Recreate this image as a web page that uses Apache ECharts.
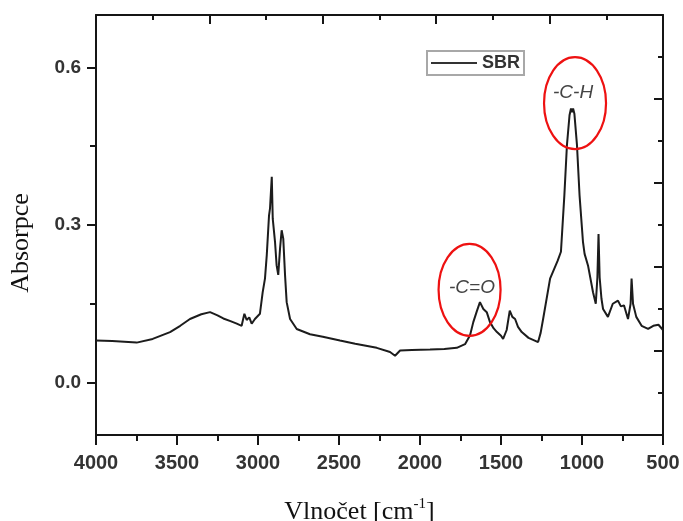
<!DOCTYPE html>
<html>
<head>
<meta charset="utf-8">
<title>FTIR spektrum SBR</title>
<script src="https://cdn.jsdelivr.net/npm/echarts@6/dist/echarts.min.js"></script>
<style>
  html, body { margin: 0; padding: 0; background: #fff; }
  #chart { width: 683px; height: 521px; }
</style>
</head>
<body>
<div id="chart"></div>
<script>
// FTIR absorbance spectrum of SBR rubber
const seriesName = 'SBR';

// wavenumber [cm-1]
const wavenumbers = [
  4000, 3900, 3800, 3749, 3650, 3543, 3480, 3420, 3350, 3296, 3250, 3214, 3170, 3131, 3101,
  3084, 3070, 3054, 3039, 3019, 2988, 2971, 2957, 2946, 2932, 2926, 2915, 2909, 2895, 2885,
  2875, 2864, 2854, 2844, 2833, 2823, 2802, 2761, 2679, 2600, 2494, 2400, 2267, 2185, 2154,
  2123, 2050, 1938, 1850, 1773, 1722, 1691, 1671, 1650, 1630, 1609, 1588, 1568, 1545, 1525,
  1500, 1487, 1465, 1446, 1430, 1413, 1395, 1372, 1330, 1271, 1255, 1240, 1197, 1150, 1130,
  1109, 1093, 1077, 1068, 1062, 1055, 1047, 1031, 1015, 994, 984, 963, 932, 915, 905,
  898, 891, 880, 870, 840, 810, 778, 760, 741, 716, 700, 694, 685, 665, 632,
  592, 560, 528, 500
];

// absorbance
const absorbance = [
  0.080, 0.079, 0.077, 0.076, 0.083, 0.096, 0.108, 0.121, 0.130, 0.134, 0.128, 0.122, 0.117, 0.112, 0.108,
  0.131, 0.119, 0.124, 0.112, 0.121, 0.131, 0.172, 0.198, 0.242, 0.318, 0.331, 0.392, 0.312, 0.268, 0.223,
  0.205, 0.255, 0.290, 0.274, 0.204, 0.153, 0.121, 0.102, 0.092, 0.087, 0.080, 0.074, 0.066, 0.058, 0.051,
  0.061, 0.062, 0.063, 0.064, 0.066, 0.073, 0.090, 0.115, 0.135, 0.153, 0.140, 0.134, 0.115, 0.103, 0.096,
  0.089, 0.083, 0.100, 0.137, 0.125, 0.121, 0.106, 0.096, 0.085, 0.077, 0.095, 0.121, 0.198, 0.232, 0.249,
  0.356, 0.452, 0.509, 0.522, 0.515, 0.522, 0.512, 0.452, 0.356, 0.268, 0.245, 0.223, 0.172, 0.150, 0.200,
  0.283, 0.200, 0.160, 0.140, 0.125, 0.150, 0.156, 0.145, 0.147, 0.121, 0.150, 0.198, 0.150, 0.125, 0.108,
  0.102, 0.108, 0.110, 0.100
];

// axis tick labels
const xTickStep = 500;
const yMajorTicks = [0.0, 0.3, 0.6];
const yMinorTicks = [0.15, 0.45];

const points = wavenumbers.map((w, i) => [w, absorbance[i]]);

const chart = echarts.init(document.getElementById('chart'), null, { renderer: 'canvas' });

const frameColor = '#151515';
const labelFont = { color: '#333', fontFamily: 'Liberation Sans, Arial, sans-serif', fontWeight: 'bold' };
const serif = 'Liberation Serif, Times New Roman, serif';

chart.setOption({
  animation: false,
  backgroundColor: '#fff',
  grid: { left: 96, right: 20, top: 15, bottom: 86, containLabel: false, outerBoundsMode: 'none' },
  legend: {
    data: [seriesName],
    left: 427,
    top: 51,
    itemWidth: 46,
    itemHeight: 14,
    padding: [3, 4, 3, 3],
    borderColor: '#a8a8a8',
    borderWidth: 2,
    backgroundColor: '#fff',
    itemStyle: { opacity: 0 },
    lineStyle: { color: '#333', width: 2 },
    textStyle: Object.assign({ fontSize: 18 }, labelFont)
  },
  xAxis: [
    {
      type: 'value',
      min: 500,
      max: 4000,
      interval: xTickStep,
      inverse: true,
      position: 'bottom',
      axisLine: { show: true, onZero: false, lineStyle: { color: frameColor, width: 2 } },
      axisTick: { show: true, inside: false, length: 10, lineStyle: { color: frameColor, width: 2 } },
      minorTick: { show: true, splitNumber: 2, length: 6, lineStyle: { color: frameColor, width: 2 } },
      splitLine: { show: false },
      axisLabel: Object.assign({ fontSize: 20, margin: 18, formatter: v => String(v) }, labelFont),
      name: 'Vlnočet [cm{sup|-1}]',
      nameLocation: 'middle',
      nameGap: 62,
      nameTextStyle: {
        color: '#111',
        fontFamily: serif,
        fontSize: 26,
        lineHeight: 30,
        padding: [0, 40, 0, 0],
        rich: {
          sup: {
            fontFamily: serif,
            fontSize: 15,
            color: '#111',
            verticalAlign: 'top',
            lineHeight: 30,
            padding: [0, 0, 12, 0]
          }
        }
      }
    },
    {
      type: 'value',
      min: 0,
      max: 10,
      interval: 2,
      position: 'top',
      axisLine: { show: true, onZero: false, lineStyle: { color: frameColor, width: 2 } },
      axisTick: { show: true, inside: true, length: 9, lineStyle: { color: frameColor, width: 2 } },
      minorTick: { show: true, splitNumber: 2, length: 5, lineStyle: { color: frameColor, width: 2 } },
      splitLine: { show: false },
      axisLabel: { show: false }
    }
  ],
  yAxis: [
    {
      type: 'value',
      min: -0.1,
      max: 0.7,
      position: 'left',
      axisLine: { show: true, onZero: false, lineStyle: { color: frameColor, width: 2 } },
      axisTick: { show: true, inside: false, length: 9, customValues: yMajorTicks, lineStyle: { color: frameColor, width: 2 } },
      splitLine: { show: false },
      axisLabel: Object.assign({
        fontSize: 19,
        margin: 15,
        customValues: yMajorTicks,
        formatter: v => v.toFixed(1)
      }, labelFont),
      name: 'Absorpce',
      nameLocation: 'middle',
      nameGap: 62,
      nameTextStyle: {
        color: '#111',
        fontFamily: serif,
        fontSize: 26,
        padding: [0, 36, 0, 0]
      }
    },
    {
      type: 'value',
      min: -0.1,
      max: 0.7,
      position: 'left',
      axisLine: { show: false, onZero: false },
      axisTick: { show: true, inside: false, length: 6, customValues: yMinorTicks, lineStyle: { color: frameColor, width: 2 } },
      splitLine: { show: false },
      axisLabel: { show: false }
    },
    {
      type: 'value',
      min: 0,
      max: 10,
      interval: 2,
      position: 'right',
      axisLine: { show: true, onZero: false, lineStyle: { color: frameColor, width: 2 } },
      axisTick: { show: true, inside: true, length: 9, lineStyle: { color: frameColor, width: 2 } },
      minorTick: { show: true, splitNumber: 2, length: 5, lineStyle: { color: frameColor, width: 2 } },
      splitLine: { show: false },
      axisLabel: { show: false }
    }
  ],
  series: [
    {
      name: seriesName,
      type: 'line',
      xAxisIndex: 0,
      yAxisIndex: 0,
      data: points,
      symbol: 'none',
      smooth: false,
      lineStyle: { color: '#1c1c1c', width: 2 },
      itemStyle: { color: '#1c1c1c' }
    }
  ]
});

// band annotations: circled peaks with their group labels
const bands = [
  { text: '-C-H', textAt: [1055, 0.5525], ringAt: [1043, 0.532] },
  { text: '-C=O', textAt: [1679, 0.181], ringAt: [1694, 0.1765] }
];

const graphics = [];
bands.forEach(b => {
  const t = chart.convertToPixel({ xAxisIndex: 0, yAxisIndex: 0 }, b.textAt);
  const r = chart.convertToPixel({ xAxisIndex: 0, yAxisIndex: 0 }, b.ringAt);
  graphics.push({
    type: 'ellipse',
    shape: { cx: r[0], cy: r[1], rx: 31, ry: 46 },
    style: { fill: 'none', stroke: '#ee1111', lineWidth: 2.2 },
    z: 10
  });
  graphics.push({
    type: 'text',
    x: t[0],
    y: t[1],
    style: {
      text: b.text,
      fill: '#444',
      font: 'italic 19px "Liberation Sans", Arial, sans-serif',
      align: 'center',
      verticalAlign: 'middle'
    },
    z: 11
  });
});
chart.setOption({ graphic: graphics });
</script>
</body>
</html>
